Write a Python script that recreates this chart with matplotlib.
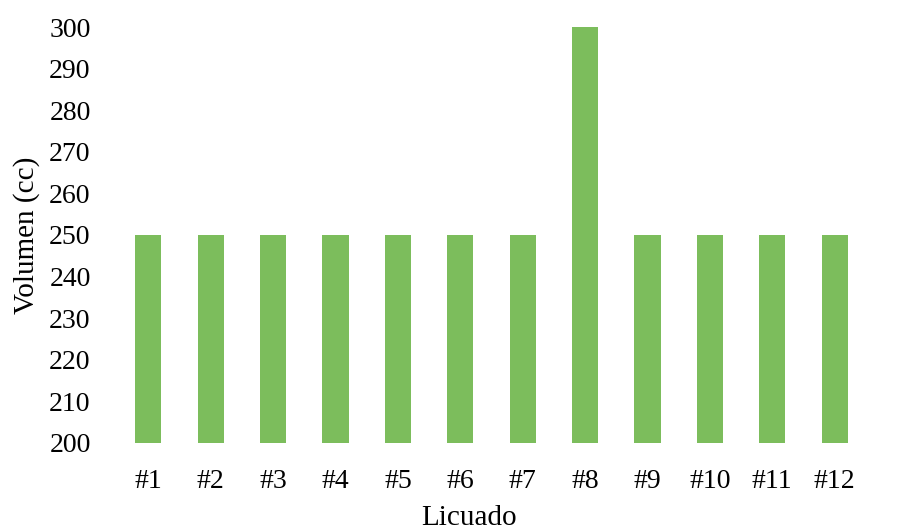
import matplotlib
matplotlib.use("Agg")
import matplotlib.pyplot as plt

# data
licuados = ['#1', '#2', '#3', '#4', '#5', '#6', '#7', '#8', '#9', '#10', '#11', '#12']
volumen = [250, 250, 250, 250, 250, 250, 250, 300, 250, 250, 250, 250]

plt.rcParams['font.family'] = ['Liberation Serif', 'DejaVu Serif']

fig = plt.figure(figsize=(9.01, 5.31), dpi=100)
ax = fig.add_axes([0.130, 0.166, 0.831, 0.783])

ax.bar(licuados, volumen, width=0.42, color='#7cbd5c')
ax.set_ylim(200, 300)
ax.set_xlim(-0.5, len(licuados) - 0.5)
ax.set_yticks(range(200, 301, 10))

for s in ax.spines.values():
    s.set_visible(False)
ax.tick_params(length=0, labelsize=20)
ax.tick_params(axis='y', pad=19)
ax.tick_params(axis='x', pad=19)
ax.set_ylabel('Volumen (cc)', fontsize=21)
ax.set_xlabel('Licuado', fontsize=21)
ax.yaxis.set_label_coords(-0.103, 0.50)
ax.xaxis.set_label_coords(0.47, -0.150)

fig.savefig('out.png', dpi=100)
